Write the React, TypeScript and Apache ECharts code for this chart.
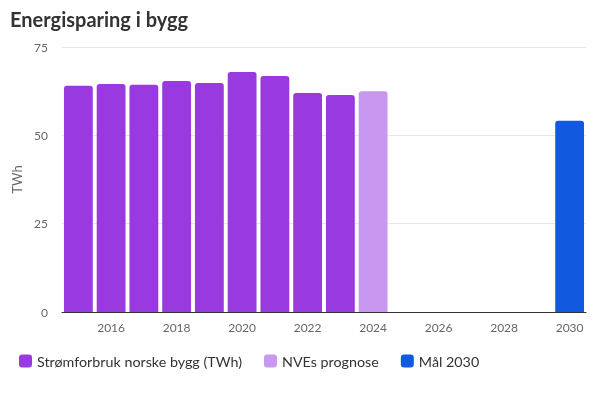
import React, { useEffect, useRef } from "react";
import * as echarts from "echarts";

const years = ["2015","2016","2017","2018","2019","2020","2021","2022","2023","2024","2025","2026","2027","2028","2029","2030"];
const forbruk = [64.0, 64.5, 64.3, 65.4, 64.8, 67.9, 66.8, 62.0, 61.4, null, null, null, null, null, null, null];
const prognose = [null, null, null, null, null, null, null, null, null, 62.5, null, null, null, null, null, null];
const maal = [null, null, null, null, null, null, null, null, null, null, null, null, null, null, null, 54.1];
const yTicks = [0, 25, 50, 75];

const FONT = "Lato, 'Open Sans', sans-serif";

export default function App() {
  const ref = useRef<HTMLDivElement>(null);
  useEffect(() => {
    const chart = echarts.init(ref.current!, null, { renderer: "svg" });
    const evenIdx = (i: number) => i % 2 === 1;
    chart.setOption({
      animation: false,
      textStyle: { fontFamily: FONT },
      title: {
        text: "Energisparing i bygg",
        left: 5,
        top: 4,
        textStyle: { fontFamily: FONT, fontSize: 20, fontWeight: "bold", color: "#333" },
      },
      legend: {
        left: 14,
        top: 349,
        icon: "roundRect",
        itemWidth: 13,
        itemHeight: 13,
        itemGap: 22,
        textStyle: { fontFamily: FONT, fontSize: 14.3, color: "#333" },
        data: ["Strømforbruk norske bygg (TWh)", "NVEs prognose", "Mål 2030"],
      },
      grid: { left: 62, right: 14, top: 47, bottom: 88, containLabel: false },
      xAxis: {
        type: "category",
        data: years,
        boundaryGap: true,
        axisLine: { lineStyle: { color: "#333", width: 1 } },
        axisTick: { alignWithLabel: true, interval: evenIdx, length: 6, lineStyle: { color: "#333" } },
        axisLabel: { interval: evenIdx, color: "#666", fontSize: 12, margin: 9, fontFamily: FONT },
      },
      yAxis: {
        type: "value",
        min: yTicks[0],
        max: yTicks[yTicks.length - 1],
        interval: 25,
        name: "TWh",
        nameLocation: "middle",
        nameGap: 29,
        nameTextStyle: { color: "#666", fontSize: 13, fontFamily: FONT },
        axisLine: { show: false },
        axisTick: { show: false },
        axisLabel: { color: "#666", fontSize: 12, margin: 14, fontFamily: FONT },
        splitLine: { lineStyle: { color: "#e6e6e6" } },
      },
      series: [
        {
          name: "Strømforbruk norske bygg (TWh)",
          type: "bar",
          data: forbruk,
          barWidth: "88%",
          barGap: "-100%",
          itemStyle: { color: "#993ae0", borderRadius: [3, 3, 0, 0] },
        },
        {
          name: "NVEs prognose",
          type: "bar",
          data: prognose,
          barWidth: "88%",
          barGap: "-100%",
          itemStyle: { color: "#c897ef", borderRadius: [3, 3, 0, 0] },
        },
        {
          name: "Mål 2030",
          type: "bar",
          data: maal,
          barWidth: "88%",
          barGap: "-100%",
          itemStyle: { color: "#1159df", borderRadius: [3, 3, 0, 0] },
        },
      ],
    });
    return () => chart.dispose();
  }, []);
  return <div ref={ref} style={{ position: "fixed", left: 0, top: 0, width: 600, height: 400 }} />;
}
